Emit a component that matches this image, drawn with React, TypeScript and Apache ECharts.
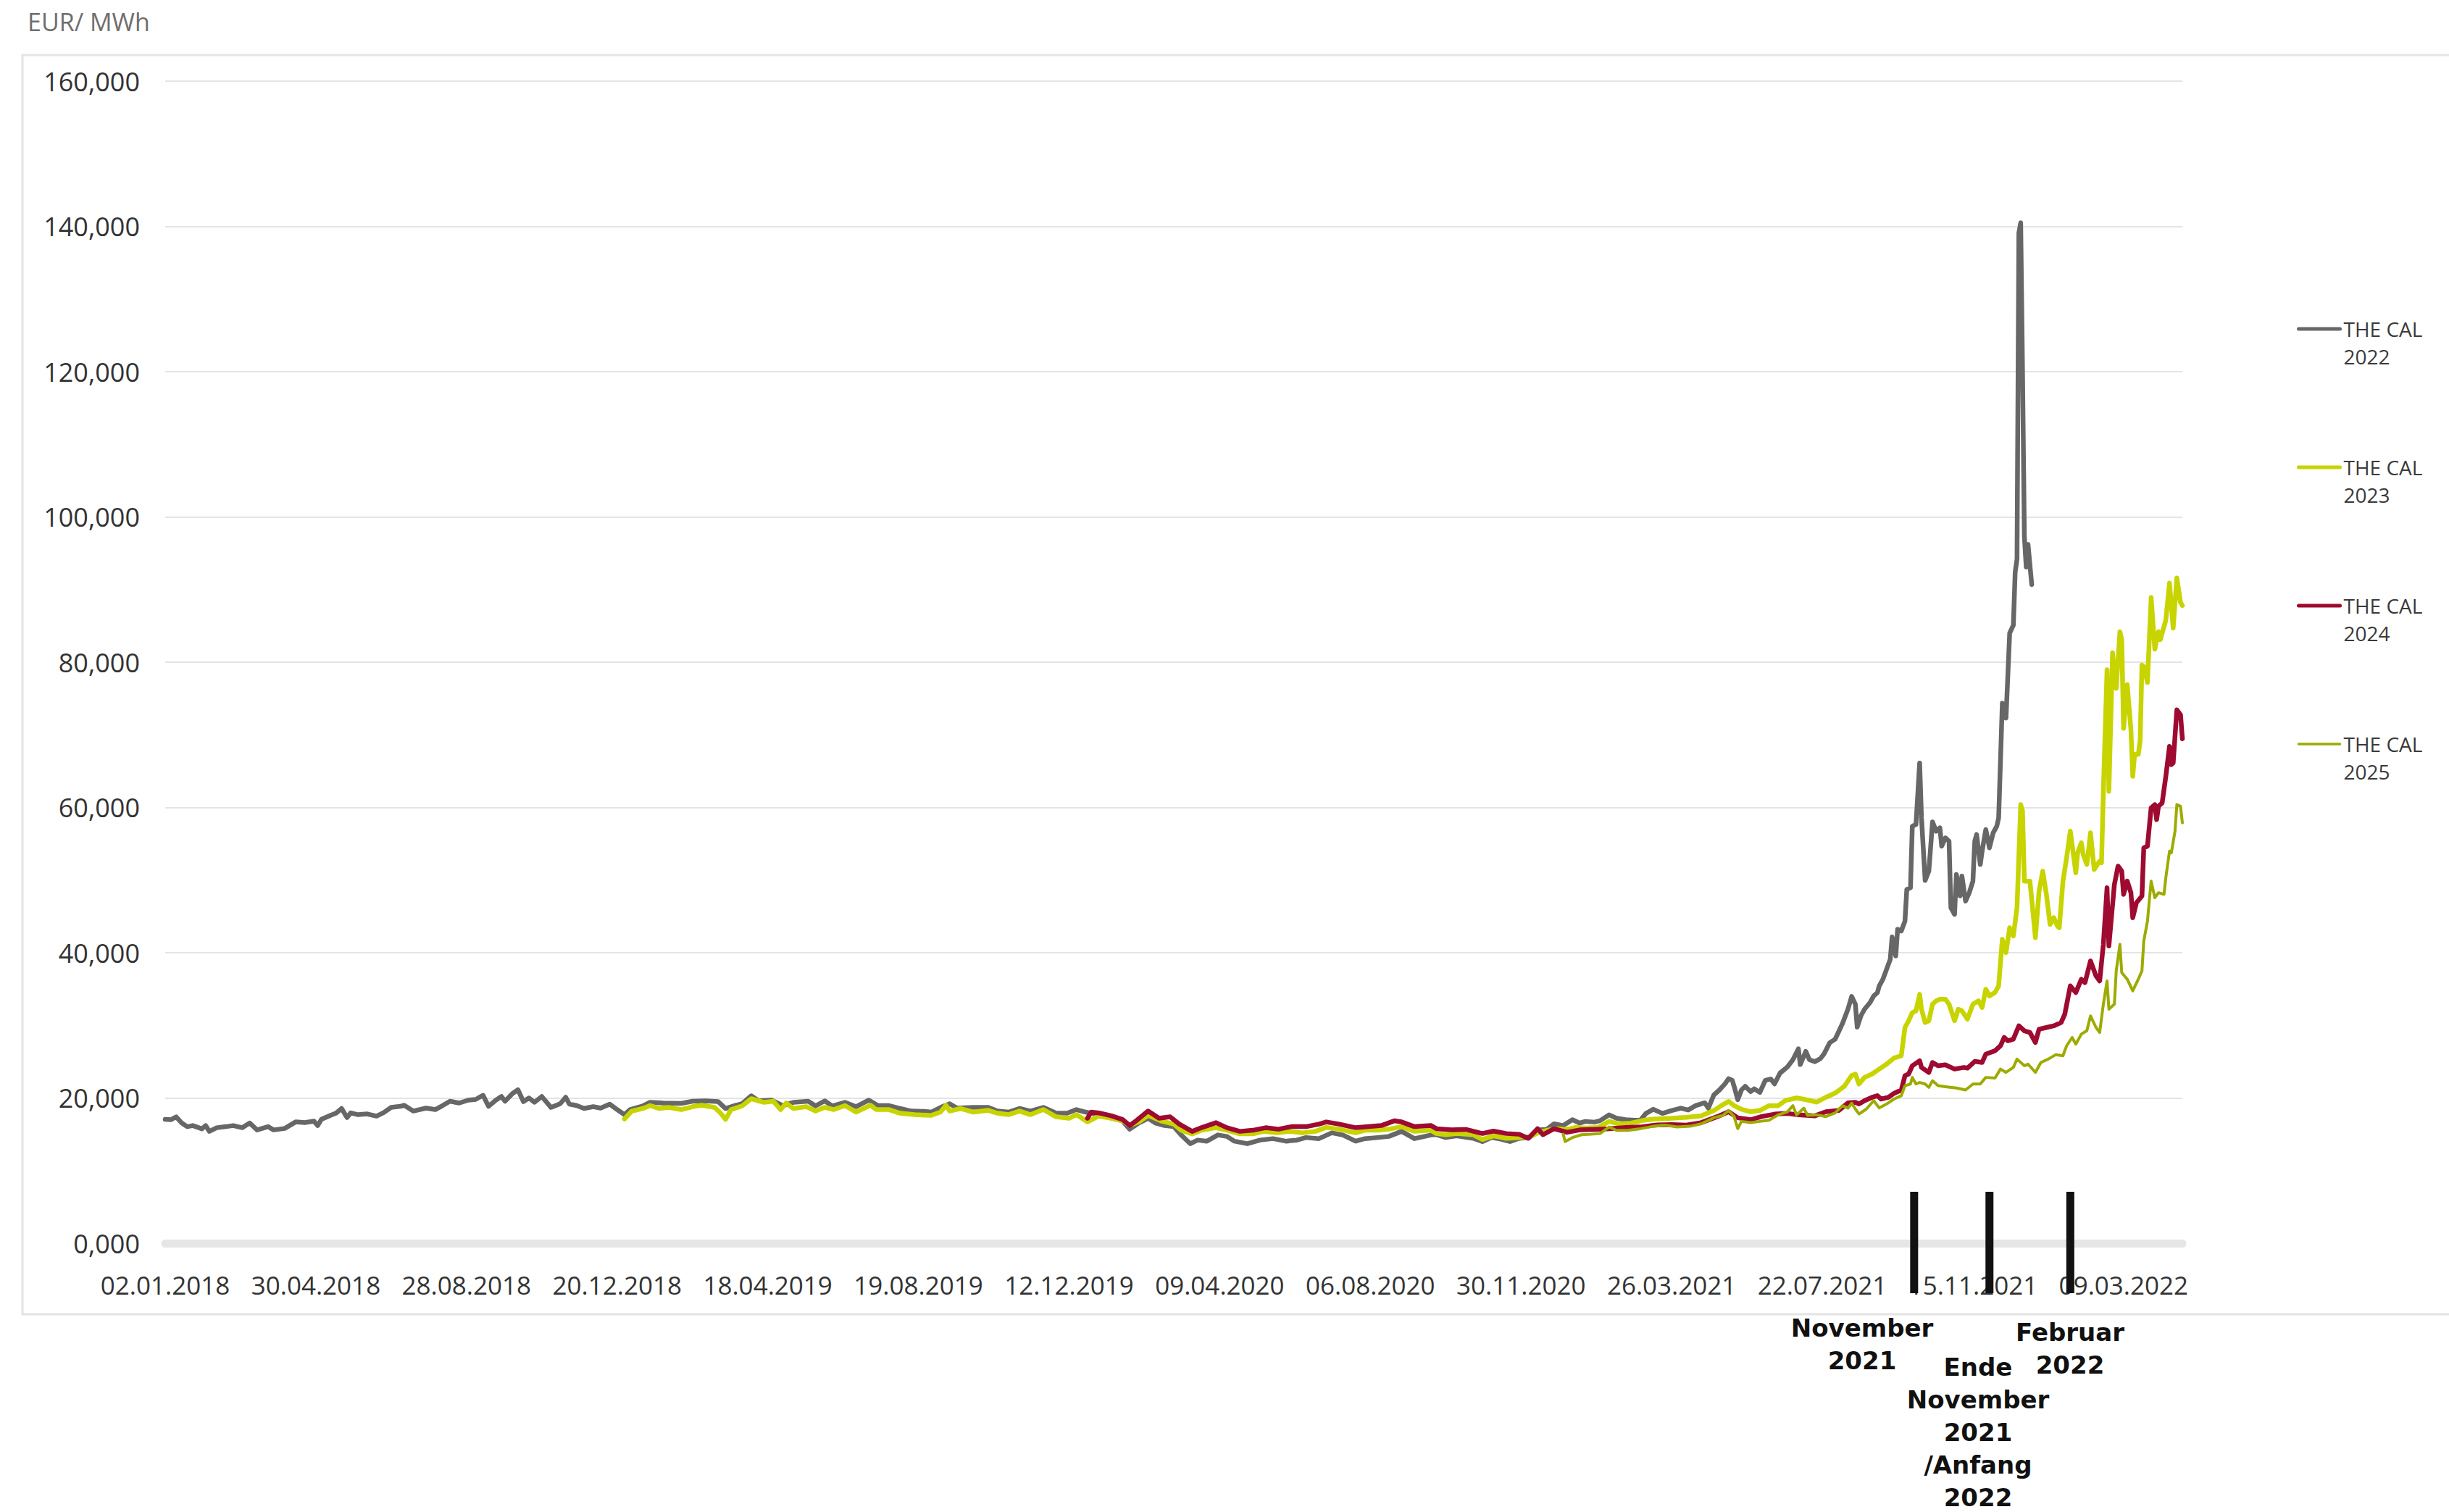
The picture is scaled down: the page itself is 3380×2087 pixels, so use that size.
import React, { useEffect, useRef } from 'react';
import * as echarts from 'echarts';

// Trading-day axis: one label every 82 trading days, starting 02.01.2018
const tickLabels = [
  '02.01.2018', '30.04.2018', '28.08.2018', '20.12.2018', '18.04.2019', '19.08.2019', '12.12.2019',
  '09.04.2020', '06.08.2020', '30.11.2020', '26.03.2021', '22.07.2021', '15.11.2021', '09.03.2022',
];
const TICK_STEP = 82;
const LAST_DAY = 1098;

const seriesNames = ['THE CAL 2022', 'THE CAL 2023', 'THE CAL 2024', 'THE CAL 2025'];

// [trading day index, price in EUR/MWh]
const cal2022: [number, number][] = [
  [0, 17.05], [3, 17.0], [6, 17.4], [9, 16.55], [12, 16.05], [15, 16.2], [20, 15.75], [22, 16.2], [24, 15.4], [28, 15.9],
  [33, 16.05], [37, 16.2], [42, 15.9], [46, 16.55], [50, 15.6], [56, 16.05], [59, 15.6], [65, 15.8], [71, 16.7], [76, 16.6],
  [81, 16.8], [83, 16.2], [85, 17.05], [90, 17.6], [93, 17.9], [96, 18.55], [99, 17.3], [101, 17.95], [105, 17.7], [110, 17.8],
  [115, 17.5], [119, 18.0], [123, 18.7], [128, 18.85], [130, 19.0], [135, 18.2], [142, 18.6], [147, 18.4], [151, 18.95], [155, 19.55],
  [160, 19.3], [165, 19.7], [169, 19.8], [173, 20.37], [176, 18.85], [180, 19.7], [183, 20.2], [185, 19.55], [189, 20.6], [192, 21.14],
  [195, 19.5], [198, 20.0], [201, 19.4], [205, 20.2], [210, 18.7], [215, 19.2], [218, 20.1], [220, 19.15], [224, 18.95], [228, 18.55],
  [233, 18.8], [237, 18.6], [242, 19.15], [246, 18.4], [250, 17.7], [253, 18.4], [260, 18.9], [264, 19.4], [271, 19.3], [281, 19.25],
  [287, 19.55], [294, 19.6], [301, 19.5], [305, 18.55], [310, 18.95], [314, 19.2], [319, 20.3], [323, 19.6], [330, 19.7], [336, 18.95],
  [342, 19.4], [350, 19.55], [354, 18.9], [359, 19.6], [363, 18.9], [370, 19.4], [376, 18.8], [383, 19.7], [388, 18.95], [394, 18.95],
  [400, 18.55], [406, 18.2], [413, 18.15], [417, 18.05], [423, 18.8], [427, 19.2], [431, 18.6], [440, 18.7], [448, 18.7], [453, 18.2],
  [459, 18.05], [465, 18.55], [471, 18.2], [478, 18.7], [485, 17.9], [491, 17.9], [496, 18.4], [501, 18.05], [508, 17.7], [515, 17.25],
  [521, 16.85], [525, 15.7], [530, 16.55], [535, 17.2], [539, 16.55], [544, 16.2], [549, 16.05], [553, 14.9], [558, 13.7], [562, 14.2],
  [567, 14.05], [573, 14.9], [578, 14.7], [582, 14.05], [589, 13.7], [596, 14.2], [603, 14.4], [610, 14.05], [616, 14.2], [621, 14.55],
  [628, 14.4], [635, 15.2], [641, 14.9], [648, 14.05], [653, 14.4], [660, 14.55], [666, 14.7], [673, 15.4], [680, 14.4], [689, 14.9],
  [692, 14.95], [697, 14.55], [703, 14.78], [712, 14.44], [717, 14.0], [722, 14.55], [727, 14.34], [732, 14.0], [737, 14.44], [742, 14.55],
  [745, 14.95], [748, 15.6], [752, 15.67], [756, 16.44], [761, 16.2], [766, 17.0], [770, 16.54], [773, 16.77], [778, 16.67], [781, 16.87],
  [786, 17.67], [790, 17.2], [795, 17.0], [800, 16.94], [803, 16.94], [806, 17.87], [810, 18.44], [815, 17.87], [820, 18.27], [825, 18.6],
  [829, 18.34], [833, 18.94], [838, 19.33], [840, 18.6], [843, 20.43], [846, 21.1], [849, 21.93], [851, 22.66], [853, 22.43], [854, 21.6],
  [856, 19.77], [858, 21.1], [860, 21.6], [863, 20.87], [865, 21.26], [868, 20.76], [871, 22.43], [874, 22.6], [876, 21.93], [879, 23.43],
  [883, 24.26], [886, 25.26], [889, 26.76], [890, 24.6], [893, 26.42], [895, 25.26], [898, 25.0], [901, 25.42], [903, 26.09], [906, 27.59],
  [909, 28.09], [913, 30.25], [916, 32.25], [918, 33.98], [920, 32.91], [921, 29.75], [923, 31.3], [925, 32.22], [928, 33.14], [930, 34.05],
  [932, 34.51], [933, 35.43], [935, 36.34], [937, 37.72], [939, 39.1], [940, 42.16], [942, 39.55], [943, 43.22], [945, 42.99], [947, 44.36],
  [948, 48.71], [950, 48.94], [951, 57.42], [953, 57.65], [955, 66.12], [956, 58.56], [958, 49.95], [960, 51.23], [962, 58.01], [964, 56.73],
  [966, 57.19], [967, 54.67], [969, 55.81], [971, 55.35], [972, 46.19], [974, 45.28], [975, 50.77], [977, 47.8], [978, 50.55], [980, 47.11],
  [982, 48.26], [984, 49.86], [985, 55.35], [986, 56.27], [988, 52.15], [989, 53.98], [991, 56.96], [993, 54.44], [995, 56.5], [997, 57.42],
  [998, 58.56], [1000, 74.37], [1002, 72.3], [1004, 84.0], [1006, 85.1], [1007, 92.4], [1008, 94.2], [1009, 139.1], [1010, 140.5], [1011, 120.0],
  [1012, 97.3], [1013, 93.1], [1014, 96.2], [1016, 90.7],
];

const cal2023: [number, number][] = [
  [250, 17.1], [254, 18.2], [260, 18.55], [264, 18.95], [269, 18.55], [274, 18.7], [281, 18.4], [287, 18.8], [292, 19.0], [299, 18.7],
  [302, 18.0], [305, 17.05], [308, 18.4], [314, 18.9], [319, 19.9], [326, 19.4], [331, 19.55], [335, 18.4], [338, 19.3], [342, 18.55],
  [349, 18.8], [354, 18.2], [359, 18.7], [364, 18.4], [370, 18.95], [376, 18.05], [384, 19.0], [387, 18.4], [394, 18.4], [400, 17.9],
  [408, 17.7], [417, 17.6], [422, 18.05], [425, 19.0], [427, 18.2], [433, 18.55], [440, 18.05], [448, 18.3], [453, 17.9], [459, 17.7],
  [465, 18.2], [471, 17.7], [478, 18.4], [485, 17.4], [492, 17.2], [496, 17.7], [502, 16.7], [508, 17.5], [515, 17.2], [521, 16.85],
  [525, 16.2], [530, 16.7], [535, 17.6], [542, 16.85], [549, 16.4], [553, 15.55], [559, 15.05], [564, 15.55], [572, 15.9], [578, 15.55],
  [585, 15.05], [592, 15.05], [598, 15.4], [605, 15.2], [612, 15.4], [619, 15.2], [626, 15.4], [632, 15.95], [639, 15.7], [648, 15.2],
  [653, 15.55], [660, 15.55], [666, 15.7], [673, 16.05], [680, 15.4], [689, 15.55], [692, 15.1], [697, 14.94], [703, 15.1], [712, 14.94],
  [717, 14.28], [723, 14.78], [730, 14.44], [737, 14.55], [743, 14.68], [748, 15.27], [753, 15.6], [758, 15.77], [763, 15.67], [768, 15.94],
  [773, 15.87], [780, 15.94], [786, 16.77], [791, 16.44], [798, 16.54], [805, 16.94], [811, 17.1], [820, 17.2], [828, 17.34], [836, 17.54],
  [843, 18.27], [847, 18.94], [851, 19.53], [854, 18.94], [858, 18.44], [863, 18.1], [868, 18.27], [873, 18.94], [878, 18.94], [882, 19.67],
  [888, 20.0], [893, 19.77], [899, 19.43], [904, 20.1], [909, 20.67], [914, 21.6], [918, 23.1], [920, 23.29], [922, 21.92], [925, 22.83],
  [929, 23.29], [933, 23.98], [937, 24.66], [941, 25.49], [945, 25.81], [947, 29.7], [949, 30.62], [951, 31.76], [953, 31.99], [955, 34.28],
  [956, 32.22], [958, 30.39], [960, 30.62], [962, 32.91], [964, 33.37], [966, 33.6], [969, 33.6], [971, 32.91], [974, 30.62], [976, 32.22],
  [978, 31.99], [981, 30.85], [984, 32.91], [987, 33.37], [989, 32.45], [991, 34.97], [993, 34.05], [996, 34.51], [998, 35.43], [1000, 41.84],
  [1002, 40.01], [1004, 43.44], [1006, 42.3], [1008, 46.19], [1010, 60.39], [1011, 59.48], [1012, 49.86], [1015, 49.86], [1016, 47.34], [1018, 42.07],
  [1020, 48.48], [1022, 51.23], [1024, 48.03], [1026, 43.9], [1028, 44.82], [1030, 43.67], [1031, 43.44], [1033, 49.86], [1035, 53.06], [1037, 56.73],
  [1040, 51.0], [1041, 53.75], [1043, 55.13], [1044, 53.52], [1046, 52.15], [1047, 54.21], [1048, 56.5], [1050, 51.46], [1053, 52.61], [1054, 52.38],
  [1055, 62.23], [1057, 78.95], [1058, 62.23], [1060, 81.3], [1062, 76.4], [1064, 84.2], [1065, 83.1], [1066, 70.9], [1068, 76.9], [1070, 70.7],
  [1071, 64.3], [1072, 67.3], [1074, 67.3], [1075, 69.1], [1076, 79.6], [1077, 79.4], [1079, 77.2], [1081, 88.9], [1083, 81.8], [1085, 84.2],
  [1086, 83.1], [1089, 85.8], [1091, 90.9], [1093, 84.7], [1095, 91.6], [1097, 88.2], [1098, 87.8],
];

const cal2024: [number, number][] = [
  [502, 17.2], [504, 18.05], [509, 17.9], [515, 17.55], [521, 17.05], [525, 16.2], [529, 16.95], [535, 18.2], [541, 17.2], [547, 17.4],
  [552, 16.4], [559, 15.4], [564, 15.9], [572, 16.6], [578, 15.9], [585, 15.4], [592, 15.55], [599, 15.9], [606, 15.7], [613, 16.05],
  [621, 16.05], [628, 16.4], [632, 16.7], [639, 16.4], [648, 15.9], [655, 16.05], [662, 16.2], [669, 16.85], [673, 16.7], [680, 16.05],
  [689, 16.2], [692, 15.77], [700, 15.6], [708, 15.67], [717, 15.1], [723, 15.44], [730, 15.1], [737, 15.0], [742, 14.44], [747, 15.77],
  [750, 14.94], [756, 15.77], [763, 15.27], [770, 15.6], [778, 15.67], [786, 15.77], [795, 15.94], [803, 16.0], [811, 16.27], [820, 16.34],
  [828, 16.27], [836, 16.6], [845, 17.44], [851, 18.1], [856, 17.27], [863, 17.0], [869, 17.44], [876, 17.77], [883, 17.87], [889, 17.67],
  [898, 17.54], [904, 18.1], [911, 18.27], [916, 19.33], [920, 19.4], [922, 19.17], [925, 19.63], [929, 20.08], [932, 20.31], [934, 19.85],
  [938, 20.08], [941, 20.63], [945, 21.09], [947, 23.06], [949, 23.29], [951, 24.43], [955, 25.12], [956, 24.2], [960, 23.52], [962, 24.89],
  [965, 24.43], [969, 24.57], [974, 23.98], [979, 24.2], [981, 24.11], [985, 25.03], [989, 24.89], [991, 26.04], [996, 26.5], [999, 27.18],
  [1001, 28.33], [1003, 27.87], [1006, 28.1], [1009, 29.93], [1012, 29.25], [1015, 29.02], [1018, 27.64], [1020, 29.47], [1024, 29.7], [1028, 29.93],
  [1032, 30.39], [1034, 31.53], [1037, 35.43], [1040, 34.51], [1043, 36.34], [1045, 35.89], [1048, 38.86], [1051, 36.8], [1053, 36.11], [1055, 41.15],
  [1057, 48.94], [1058, 40.93], [1061, 49.4], [1063, 51.92], [1065, 51.23], [1066, 48.03], [1068, 49.86], [1070, 48.26], [1071, 44.82], [1073, 46.88],
  [1076, 47.8], [1077, 54.44], [1079, 54.67], [1081, 59.94], [1083, 60.39], [1084, 58.33], [1085, 60.16], [1087, 60.62], [1089, 64.29], [1091, 68.41],
  [1092, 65.89], [1093, 66.12], [1095, 73.45], [1097, 72.76], [1098, 69.46],
];

const cal2025: [number, number][] = [
  [761, 15.0], [762, 14.0], [766, 14.55], [771, 14.94], [776, 15.0], [781, 15.1], [786, 16.0], [790, 15.54], [796, 15.54], [803, 15.77],
  [810, 16.1], [816, 16.27], [823, 16.0], [830, 16.1], [836, 16.44], [843, 17.27], [848, 17.6], [851, 18.27], [854, 17.44], [856, 15.77],
  [858, 16.77], [863, 16.6], [868, 16.77], [873, 16.94], [878, 17.67], [883, 18.1], [886, 18.94], [888, 17.67], [892, 18.6], [894, 17.6],
  [899, 17.67], [904, 17.44], [909, 17.94], [913, 18.94], [916, 18.6], [918, 19.27], [920, 18.48], [922, 17.79], [926, 18.48], [930, 19.63],
  [933, 18.62], [937, 19.17], [941, 19.85], [945, 20.31], [947, 21.69], [950, 21.92], [951, 22.83], [953, 21.92], [955, 22.14], [958, 21.92],
  [960, 21.46], [962, 22.37], [965, 21.69], [969, 21.55], [975, 21.37], [980, 21.09], [984, 21.92], [988, 21.92], [991, 22.83], [996, 22.74],
  [999, 23.98], [1002, 23.52], [1006, 24.2], [1008, 25.35], [1012, 24.43], [1014, 24.66], [1018, 23.52], [1021, 24.89], [1025, 25.35], [1029, 25.95],
  [1033, 25.81], [1035, 27.18], [1038, 28.33], [1040, 27.41], [1043, 28.79], [1046, 29.25], [1048, 31.3], [1051, 29.7], [1053, 29.02], [1055, 32.91],
  [1057, 36.11], [1058, 32.22], [1061, 32.91], [1062, 37.49], [1064, 41.15], [1065, 37.26], [1068, 36.34], [1071, 34.74], [1074, 36.34], [1076, 37.49],
  [1077, 41.61], [1079, 44.36], [1081, 49.86], [1083, 47.57], [1085, 48.26], [1088, 48.03], [1089, 50.32], [1091, 53.98], [1092, 53.75], [1094, 56.73],
  [1095, 60.39], [1097, 60.16], [1098, 57.88],
];

// Event markers below the axis (trading day index) and their notes
const eventDays = [952, 993, 1037];
const eventNotes = ['November\n2021', 'Ende\nNovember\n2021\n/Anfang\n2022', 'Februar\n2022'];

const seriesData = [cal2022, cal2023, cal2024, cal2025];
const seriesColors = ['#676767', '#c8d400', '#9e0a30', '#9dab00'];
const seriesWidths = [6.5, 6.5, 6.5, 4];
const legendWidths = [5, 5, 5, 3.5];

const LABEL_FONT = '"Open Sans", "Noto Sans", sans-serif';

export default function App() {
  const ref = useRef<HTMLDivElement>(null);

  useEffect(() => {
    if (!ref.current) return;
    const chart = echarts.init(ref.current, null, { renderer: 'svg' });

    chart.setOption({
      animation: false,
      backgroundColor: '#ffffff',
      title: {
        text: 'EUR/ MWh',
        left: 38,
        top: 13,
        padding: 0,
        textStyle: { fontFamily: LABEL_FONT, fontSize: 34, fontWeight: 'normal', color: '#6e6e6e' },
      },
      legend: {
        orient: 'vertical',
        left: 3170,
        top: 397,
        padding: 0,
        itemWidth: 57,
        itemHeight: 14,
        itemGap: 77,
        data: seriesNames.map((name, i) => ({
          name,
          lineStyle: { width: legendWidths[i], color: seriesColors[i], cap: 'round' },
        })),
        formatter: (name: string) => {
          const parts = name.split(' ');
          const year = parts.pop();
          return '\n' + parts.join(' ') + '\n' + year;
        },
        textStyle: { fontFamily: LABEL_FONT, fontSize: 28, lineHeight: 38, color: '#3a3a3a' },
        itemStyle: { opacity: 0 },
        lineStyle: { cap: 'round' },
      },
      grid: { left: 228, right: 368, top: 112, bottom: 371, containLabel: false },
      xAxis: {
        type: 'value',
        min: 0,
        max: LAST_DAY,
        interval: TICK_STEP,
        offset: 6,
        axisLine: { show: true, lineStyle: { color: '#e6e6e6', width: 11 } },
        axisTick: { show: false },
        splitLine: { show: false },
        axisLabel: {
          margin: 34,
          fontFamily: LABEL_FONT,
          fontSize: 35,
          color: '#333333',
          showMinLabel: true,
          showMaxLabel: true,
          formatter: (v: number) => (v % TICK_STEP === 0 && tickLabels[v / TICK_STEP]) || '',
        },
      },
      yAxis: {
        type: 'value',
        min: 0,
        max: 160,
        interval: 20,
        axisLine: { show: false },
        axisTick: { show: false },
        splitLine: { show: true, lineStyle: { color: '#e4e4e4', width: 2 } },
        axisLabel: {
          margin: 35,
          fontFamily: LABEL_FONT,
          fontSize: 36,
          color: '#333333',
          formatter: (v: number) => v.toFixed(3).replace('.', ','),
        },
      },
      series: seriesNames.map((name, i) => ({
        name,
        type: 'line',
        data: seriesData[i],
        symbol: 'none',
        showSymbol: false,
        smooth: false,
        color: seriesColors[i],
        itemStyle: { color: seriesColors[i] },
        lineStyle: { color: seriesColors[i], width: seriesWidths[i], cap: 'round', join: 'round' },
      })),
    });

    // Event bars sit on the day axis but extend below the plot
    const barX = eventDays.map((d) => chart.convertToPixel({ xAxisIndex: 0 }, d) as number);
    const noteX = [2570, 2730, 2857];
    const noteY = [1855, 1977, 1861];

    chart.setOption({
      graphic: [
        {
          type: 'rect',
          silent: true,
          z: -1,
          shape: { x: 31, y: 76, width: 3420, height: 1738 },
          style: { fill: 'none', stroke: '#e4e4e4', lineWidth: 3 },
        },
        ...barX.map((x) => ({
          type: 'rect',
          silent: true,
          z: 100,
          shape: { x: x - 5.5, y: 1645, width: 11, height: 140 },
          style: { fill: '#111111' },
        })),
        ...eventNotes.map((t, i) => ({
          type: 'text',
          silent: true,
          z: 100,
          x: noteX[i],
          y: noteY[i],
          style: {
            text: t,
            fill: '#111111',
            font: 'bold 34px "DejaVu Sans", sans-serif',
            fontFamily: '"DejaVu Sans", sans-serif',
            fontSize: 34,
            fontWeight: 'bold',
            lineHeight: 45,
            align: 'center',
            verticalAlign: 'middle',
            textAlign: 'center',
            textVerticalAlign: 'middle',
          },
        })),
      ],
    });

    return () => chart.dispose();
  }, []);

  return (
    <div
      ref={ref}
      style={{ position: 'fixed', left: 0, top: 0, width: 3380, height: 2087, background: '#ffffff' }}
    />
  );
}
